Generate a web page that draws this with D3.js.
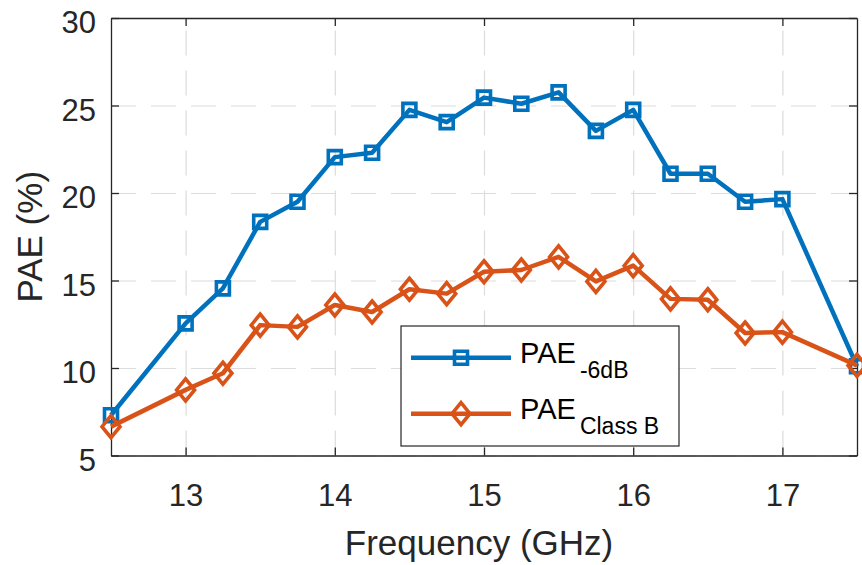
<!DOCTYPE html>
<html>
<head>
<meta charset="utf-8">
<script src="https://cdn.jsdelivr.net/npm/d3@7"></script>
<style>
  body { margin: 0; background: #fff; }
  svg text { font-family: "Liberation Sans", Arial, Helvetica, sans-serif; }
</style>
</head>
<body>
<div id="chart"></div>
<script>
// frequency points (GHz)
var freqB = [12.5, 13, 13.25, 13.5, 13.75, 14, 14.25, 14.5, 14.75, 15, 15.25, 15.5, 15.75, 16, 16.25, 16.5, 16.75, 17, 17.5];
// PAE at -6dB back-off (%)
var pae6dB = [7.3, 12.55, 14.55, 18.35, 19.5, 22.05, 22.3, 24.75, 24.05, 25.45, 25.1, 25.75, 23.55, 24.75, 21.1, 21.1, 19.5, 19.65, 10.1];
// PAE class B (%)
var paeClassB = [6.65, 8.75, 9.7, 12.45, 12.35, 13.6, 13.2, 14.5, 14.25, 15.5, 15.6, 16.35, 14.95, 15.85, 13.95, 13.9, 12.0, 12.05, 10.15];

var xTicks = [13, 14, 15, 16, 17];
var yTicks = [5, 10, 15, 20, 25, 30];

const margin = { top: 18, right: 5, bottom: 109.5, left: 111 };
const W = 862, H = 565;
const width = W - margin.left - margin.right;
const height = H - margin.top - margin.bottom;

var svg = d3.select("#chart").append("svg")
  .attr("width", W)
  .attr("height", H);

var g = svg.append("g")
  .attr("transform", "translate(" + margin.left + "," + margin.top + ")");

var x = d3.scaleLinear().domain([12.5, 17.5]).range([0, width]);
var y = d3.scaleLinear().domain([5, 30]).range([height, 0]);

// grid
g.append("g")
  .attr("class", "grid")
  .attr("transform", "translate(0," + height + ")")
  .call(d3.axisBottom(x).tickValues(xTicks).tickSize(-height).tickFormat(""));
g.append("g")
  .attr("class", "grid")
  .call(d3.axisLeft(y).tickValues(yTicks).tickSize(-width).tickFormat(""));
g.selectAll(".grid .domain").remove();
g.selectAll(".grid line")
  .attr("stroke", "#dcdcdc")
  .attr("stroke-width", 1.2)
  .attr("stroke-dasharray", "25,15");

// axes (ticks inward, box on)
var axColor = "#262626";
var fmt = d3.format("d");
var xAx = g.append("g")
  .attr("transform", "translate(0," + height + ")")
  .call(d3.axisBottom(x).tickValues(xTicks).tickFormat(fmt).tickSizeInner(-8).tickSizeOuter(0));
var yAx = g.append("g")
  .call(d3.axisLeft(y).tickValues(yTicks).tickFormat(fmt).tickSizeInner(-8).tickSizeOuter(0).tickPadding(15));
var xTop = g.append("g")
  .call(d3.axisTop(x).tickValues(xTicks).tickSizeInner(-8).tickSizeOuter(0).tickFormat(""));
var yRight = g.append("g")
  .attr("transform", "translate(" + width + ",0)")
  .call(d3.axisRight(y).tickValues(yTicks).tickSizeInner(-8).tickSizeOuter(0).tickFormat(""));

[xAx, yAx, xTop, yRight].forEach(function(a) {
  a.select(".domain").attr("stroke", axColor).attr("stroke-width", 1.3);
  a.selectAll(".tick line").attr("stroke", axColor).attr("stroke-width", 1.3);
});
xAx.selectAll(".tick text")
  .attr("fill", axColor)
  .attr("font-size", 31)
  .attr("y", 50)
  .attr("dy", 0);
yAx.selectAll(".tick text")
  .attr("fill", axColor)
  .attr("font-size", 31)
  .attr("dy", 0)
  .attr("y", 14.5);

// axis labels
svg.append("text")
  .attr("x", 479)
  .attr("y", 555)
  .attr("text-anchor", "middle")
  .attr("font-size", 35)
  .attr("fill", axColor)
  .text("Frequency (GHz)");
svg.append("text")
  .attr("transform", "translate(42," + (margin.top + height / 2) + ") rotate(-90)")
  .attr("text-anchor", "middle")
  .attr("font-size", 35)
  .attr("fill", axColor)
  .text("PAE (%)");

// series
var blue = "#0072BD", orange = "#D95319";
var square = "M-6.5,-6.5H6.5V6.5H-6.5Z";
var diamond = "M0,-11L9,0L0,11L-9,0Z";

var series = [
  { vals: pae6dB, color: blue, marker: square },
  { vals: paeClassB, color: orange, marker: diamond }
];

var line = d3.line()
  .x(function(d) { return x(d[0]); })
  .y(function(d) { return y(d[1]); });

series.forEach(function(s) {
  var pts = freqB.map(function(f, i) { return [f, s.vals[i]]; });
  g.append("path")
    .datum(pts)
    .attr("d", line)
    .attr("fill", "none")
    .attr("stroke", s.color)
    .attr("stroke-width", 4.5)
    .attr("stroke-linejoin", "round");
  g.selectAll(null)
    .data(pts)
    .enter().append("path")
    .attr("d", s.marker)
    .attr("transform", function(d) { return "translate(" + x(d[0]) + "," + y(d[1]) + ")"; })
    .attr("fill", "none")
    .attr("stroke", s.color)
    .attr("stroke-width", 3.6);
});

// legend
var leg = svg.append("g");
leg.append("rect")
  .attr("x", 401).attr("y", 326)
  .attr("width", 278).attr("height", 120)
  .attr("fill", "#fff")
  .attr("stroke", axColor)
  .attr("stroke-width", 1.2);

var legItems = [
  { color: blue, marker: square, sub: "-6dB", y: 357.7 },
  { color: orange, marker: diamond, sub: "Class B", y: 413.7 }
];
legItems.forEach(function(it) {
  leg.append("line")
    .attr("x1", 411).attr("x2", 511)
    .attr("y1", it.y).attr("y2", it.y)
    .attr("stroke", it.color)
    .attr("stroke-width", 4.5);
  leg.append("path")
    .attr("d", it.marker)
    .attr("transform", "translate(461," + it.y + ")")
    .attr("fill", "none")
    .attr("stroke", it.color)
    .attr("stroke-width", 3.6);
  var t = leg.append("text")
    .attr("x", 520)
    .attr("y", it.y + 5.5)
    .attr("font-size", 29)
    .attr("fill", "#000");
  t.append("tspan").text("PAE");
  t.append("tspan")
    .attr("dx", 4)
    .attr("dy", 15)
    .attr("font-size", 23)
    .text(it.sub);
});
</script>
</body>
</html>
